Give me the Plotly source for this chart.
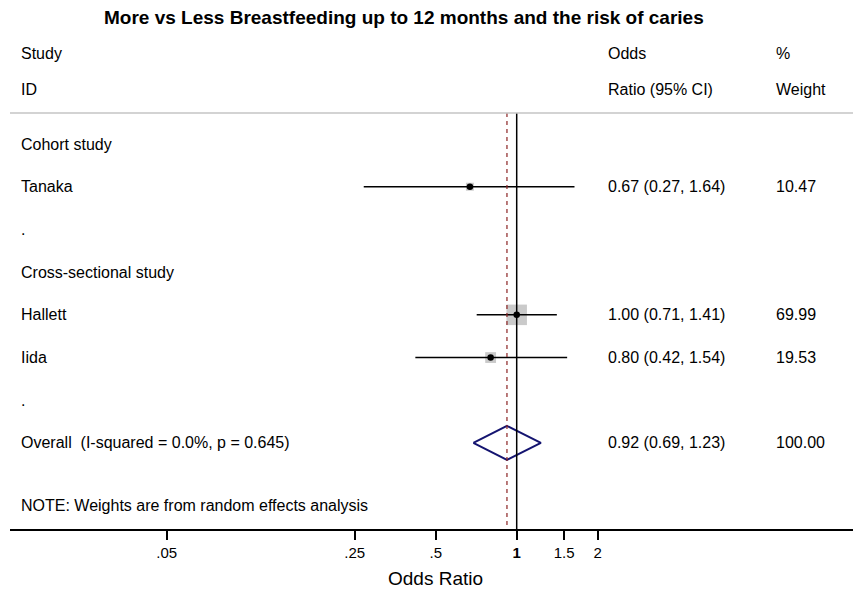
import numpy as np
import plotly.graph_objects as go

# ---------------- data ----------------
title = "More vs Less Breastfeeding up to 12 months and the risk of caries"
row_labels = ["Cohort study", "Tanaka", ".", "Cross-sectional study",
              "Hallett", "Iida", ".", "Overall  (I-squared = 0.0%, p = 0.645)"]
studies = ["Tanaka", "Hallett", "Iida"]
study_rows = [1, 4, 5]
odds = [0.67, 1.00, 0.80]
ci_low = [0.27, 0.71, 0.42]
ci_high = [1.64, 1.41, 1.54]
weights = [10.47, 69.99, 19.53]
overall_row = 7
overall_or = 0.92
overall_low = 0.69
overall_high = 1.23
overall_weight = 100.00
note = "NOTE: Weights are from random effects analysis"
tick_vals = [0.05, 0.25, 0.5, 1, 1.5, 2]
tick_text = [".05", ".25", ".5", "<b>1</b>", "1.5", "2"]

# ---------------- layout helpers (positions given in window pixels) ----------------
OFF = 8                       # default page body margin
WIN_W, WIN_H = 861, 589
W, H = WIN_W - OFF, WIN_H - OFF
PLOT_LEFT, AXIS_Y = 10, 529   # window px
ML = PLOT_LEFT - OFF
MB = WIN_H - AXIS_Y
PLOT_W = WIN_W - PLOT_LEFT
ROW0_PX, ROW_STEP = 144.0, 42.71
PX_PER_DEC, ONE_PX = 269.0, 516.7


def px_to_row(py):
    return (py - ROW0_PX) / ROW_STEP


def px_to_paper_x(px):
    return (px - PLOT_LEFT) / PLOT_W


FONT = "Arial, Liberation Sans, sans-serif"
fs = 16

fig = go.Figure()

top_row = px_to_row(113)
bottom_row = px_to_row(AXIS_Y)

# reference lines
fig.add_shape(type="line", x0=1, x1=1, y0=top_row, y1=bottom_row, xref="x", yref="y",
              line=dict(color="black", width=1.5))
fig.add_shape(type="line", x0=overall_or, x1=overall_or, y0=top_row, y1=bottom_row,
              xref="x", yref="y", line=dict(color="#8b2323", width=1.2, dash="4px,4px"))
# header separator
fig.add_shape(type="line", x0=0, x1=1, y0=top_row, y1=top_row, xref="paper", yref="y",
              line=dict(color="#c4c4c4", width=1.5))

# weight boxes
box_sizes = [2.45 * np.sqrt(w) for w in weights]
fig.add_trace(go.Scatter(x=odds, y=study_rows, mode="markers",
                         marker=dict(symbol="square", size=box_sizes, color="#b3b3b3",
                                     line=dict(width=0)),
                         hoverinfo="skip", showlegend=False))
# CI lines
for r, lo, hi in zip(study_rows, ci_low, ci_high):
    fig.add_trace(go.Scatter(x=[lo, hi], y=[r, r], mode="lines",
                             line=dict(color="black", width=1.5),
                             hoverinfo="skip", showlegend=False))
# point estimates
fig.add_trace(go.Scatter(x=odds, y=study_rows, mode="markers",
                         marker=dict(symbol="circle", size=6.5, color="black"),
                         hoverinfo="skip", showlegend=False))
# overall diamond
dh = 17 / ROW_STEP
fig.add_trace(go.Scatter(
    x=[overall_low, overall_or, overall_high, overall_or, overall_low],
    y=[overall_row, overall_row - dh, overall_row, overall_row + dh, overall_row],
    mode="lines", line=dict(color="#141470", width=2),
    hoverinfo="skip", showlegend=False))

ann = []


def txt(x_px, yrow, s, size=fs, bold=False, xanchor="left"):
    ann.append(dict(x=px_to_paper_x(x_px), xref="paper", y=yrow, yref="y",
                    text=("<b>%s</b>" % s) if bold else s, showarrow=False,
                    xanchor=xanchor, yanchor="middle",
                    xshift=(-2 if xanchor == "left" else 0),
                    font=dict(family=FONT, size=size, color="black")))


# title
txt(403.5, px_to_row(17), title, size=19, bold=True, xanchor="center")
# headers
txt(21, px_to_row(53), "Study")
txt(21, px_to_row(89), "ID")
txt(608, px_to_row(53), "Odds")
txt(608, px_to_row(89), "Ratio (95% CI)")
txt(776, px_to_row(53), "%")
txt(776, px_to_row(89), "Weight")

for i, lab in enumerate(row_labels):
    txt(21, i, lab)
for r, o, lo, hi, w in zip(study_rows, odds, ci_low, ci_high, weights):
    txt(608, r, "%.2f (%.2f, %.2f)" % (o, lo, hi))
    txt(776, r, "%.2f" % w)
txt(608, overall_row, "%.2f (%.2f, %.2f)" % (overall_or, overall_low, overall_high))
txt(776, overall_row, "%.2f" % overall_weight)
txt(21, px_to_row(505), note)

lo_log = (PLOT_LEFT - ONE_PX) / PX_PER_DEC
hi_log = (WIN_W - ONE_PX) / PX_PER_DEC

fig.update_layout(
    width=W, height=H,
    margin=dict(l=ML, r=0, t=0, b=MB, pad=0),
    paper_bgcolor="white", plot_bgcolor="white",
    annotations=ann,
    xaxis=dict(type="log", range=[lo_log, hi_log], tickvals=tick_vals, ticktext=tick_text,
               showline=True, linecolor="black", linewidth=1.5,
               ticks="outside", ticklen=9, tickwidth=1.5, tickcolor="black",
               showgrid=False, zeroline=False,
               tickfont=dict(family=FONT, size=15, color="black"),
               title=dict(text="Odds Ratio", font=dict(family=FONT, size=19, color="black"),
                          standoff=12)),
    yaxis=dict(range=[bottom_row, px_to_row(OFF)], visible=False, showgrid=False,
               zeroline=False),
)

fig.write_html("out.html")
